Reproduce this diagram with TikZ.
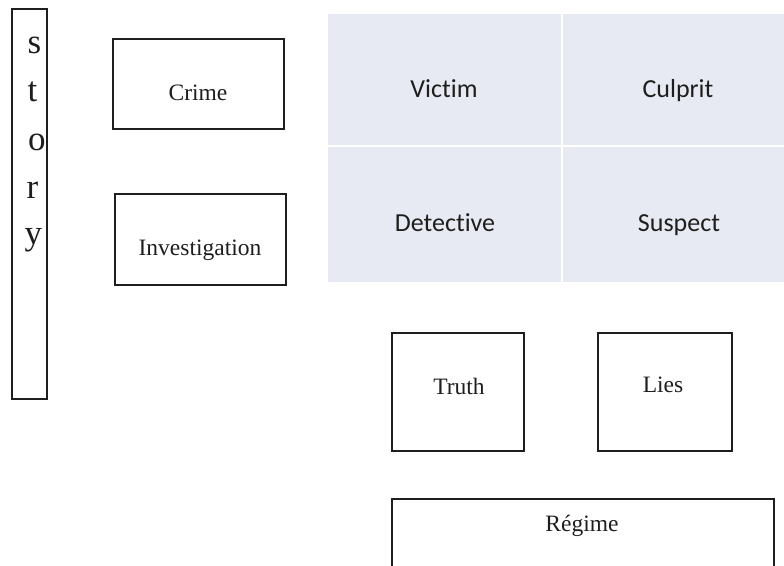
\documentclass[tikz,border=0pt]{standalone}
\usepackage{fontspec}
\setmainfont{Liberation Serif}
\newfontfamily\calib[Ligatures={NoCommon}]{Carlito}
\definecolor{gridfill}{HTML}{E7EAF2}
\definecolor{ink}{HTML}{1E1E1E}
\begin{document}
\begin{tikzpicture}[x=1pt,y=-1pt,
  box/.style={draw=ink, line width=1.3pt, inner sep=0pt},
  cell/.style={fill=gridfill, draw=white, line width=2.5pt, inner sep=0pt},
  serif/.style={font=\fontsize{23.5}{28}\selectfont, text=ink, inner sep=0pt, anchor=base},
  sans/.style={font=\calib\fontsize{26}{30}\selectfont, text=ink, inner sep=0pt, anchor=base},
  letter/.style={font=\fontsize{35}{40}\selectfont, text=ink, anchor=base west, inner sep=0pt}]
\useasboundingbox (0,0) rectangle (784,565);
\clip (0,0) rectangle (784,565);
% story column
\node[box, minimum width=35pt, minimum height=390pt] (story) at (29.5,204) {};
\node[letter] (ls) at (27.5,53) {s};
\node[letter] (lt) at (27.5,101.5) {t};
\node[letter] (lo) at (28,150) {o};
\node[letter] (lr) at (26.5,198) {r};
\node[letter] (ly) at (24.5,244) {y};
% left boxes
\node[box, minimum width=171pt, minimum height=90pt] (crime) at (198.5,84) {};
\node[serif] (crimet) at (198,100) {Crime};
\node[box, minimum width=171pt, minimum height=91pt] (inv) at (200.5,239.5) {};
\node[serif] (invt) at (200,255) {Investigation};
% grid
\node[cell, minimum width=235pt, minimum height=133pt] (c11) at (444.5,79.5) {};
\node[cell, minimum width=228pt, minimum height=133pt] (c12) at (676,79.5) {};
\node[cell, minimum width=235pt, minimum height=137pt] (c21) at (444.5,214.5) {};
\node[cell, minimum width=228pt, minimum height=137pt] (c22) at (676,214.5) {};
\node[sans] (victim) at (444,97) {Victim};
\node[sans] (culprit) at (678,97) {Culprit};
\node[sans] (detective) at (445,231) {Detective};
\node[sans] (suspect) at (679,231) {Suspect};
% lower boxes
\node[box, minimum width=132pt, minimum height=118pt] (truth) at (458,392) {};
\node[serif] (trutht) at (459,394) {Truth};
\node[box, minimum width=134pt, minimum height=118pt] (lies) at (665,392) {};
\node[serif] (liest) at (663,392) {Lies};
\node[box, minimum width=382pt, minimum height=101pt] (regime) at (583,549.5) {};
\node[serif] (regimet) at (582,531) {Régime};
\end{tikzpicture}
\end{document}
